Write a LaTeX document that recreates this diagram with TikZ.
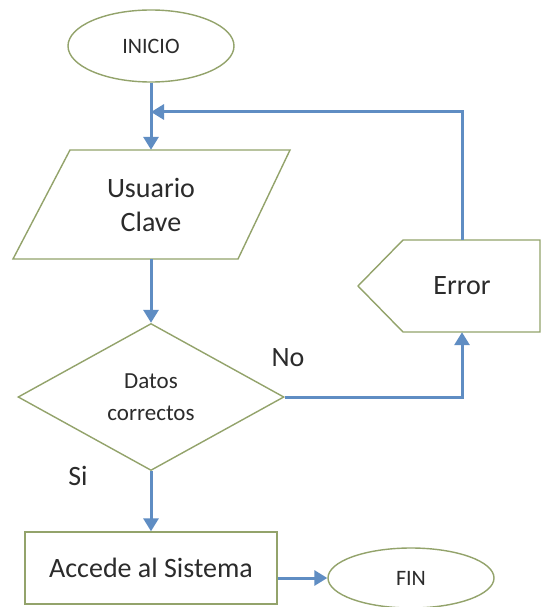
\documentclass[tikz,border=0pt]{standalone}
\usepackage{fontspec}
\setmainfont{Carlito}
\usetikzlibrary{shapes.geometric,arrows.meta}
\definecolor{shapeline}{HTML}{93A36B}
\definecolor{arrowblue}{HTML}{5F8DC3}
\definecolor{txt}{HTML}{2B2B2B}
\begin{document}
\begin{tikzpicture}[x=1pt,y=-1pt,
  outline/.style={draw=shapeline,line width=1.4pt},
  arr/.style={draw=arrowblue,line width=3pt,-{Triangle[length=13pt,width=15pt]}},
  every node/.style={text=txt,font=\fontsize{28}{34}\selectfont,inner sep=0pt},
  smalltxt/.style={font=\fontsize{22}{26}\selectfont}]
\useasboundingbox[fill=white] (0,0) rectangle (544,607);
% shapes
\node[ellipse,outline,minimum width=166pt,minimum height=72pt,smalltxt] (ini) at (151,46) {INICIO};
\draw[outline] (70,150) -- (290,150) -- (238,259) -- (13,259) -- cycle;
\node[minimum width=277pt,minimum height=109pt,align=center] (ent) at (151,204.5) {Usuario\\Clave};
\node[diamond,outline,aspect=1.8,minimum width=266pt,minimum height=147pt,align=center,font=\fontsize{23}{32}\selectfont] (dec) at (151,397) {Datos\\correctos};
\draw[outline] (358,286) -- (403,240) -- (540,240) -- (540,332) -- (403,332) -- cycle;
\node[minimum width=150pt,minimum height=92pt] (err) at (462,286) {Error};
\node[rectangle,outline,minimum width=252pt,minimum height=72pt] (box) at (151,568) {Accede al Sistema};
\node[ellipse,outline,minimum width=166pt,minimum height=60pt,smalltxt] (fin) at (411,578) {FIN};
% labels
\node (no) at (288,358) {No};
\node (si) at (78,476) {Si};
% connectors
\coordinate (j) at (151,112);
\draw[arr] (ini) -- (ent);
\draw[arr] (err.north) |- (j);
\draw[arr] (ent) -- (dec);
\draw[arr] (dec.east) -| (err.south);
\draw[arr] (dec) -- (box);
\draw[arr] (box.east |- fin.west) -- (fin.west);
\end{tikzpicture}
\end{document}
